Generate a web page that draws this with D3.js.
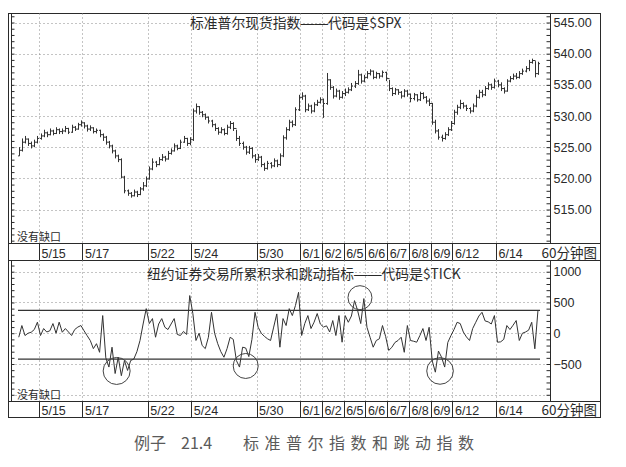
<!DOCTYPE html>
<html><head><meta charset="utf-8">
<script src="https://cdn.jsdelivr.net/npm/d3@7"></script>
<style>body{margin:0;background:#fff}svg{display:block}</style>
</head><body>
<svg id="c" width="626" height="467"></svg>
<script>
// ---------- data ----------
const days = ["5/12","5/15","5/16","5/17","5/18","5/19","5/22","5/23","5/24","5/25","5/26","5/30","5/31","6/1","6/2","6/5","6/6","6/7","6/8","6/9","6/12","6/13","6/14","6/15"];
const labelDays = ["5/15","5/17","5/22","5/24","5/30","6/1","6/2","6/5","6/6","6/7","6/8","6/9","6/12","6/14"];
const barsPerDay = 7;
const priceTicks = [545,540,535,530,525,520,515];
const tickTicks = [1000,500,0,-500];
const tickGrid = [1000,500,0,-500,-1000];

const spxClose = [
524.5,525.8,526.3,525.6,525.2,525.8,526.4,
526.8,527.3,527.0,527.6,527.2,527.8,527.5,
527.6,528.0,527.4,528.2,527.9,528.6,528.9,
528.4,527.9,528.1,527.5,527.7,527.0,526.6,
525.8,525.2,524.4,523.6,523.0,520.2,518.0,
517.6,517.2,517.8,517.4,518.3,518.8,519.9,
521.5,522.6,522.2,523.0,523.4,523.1,524.0,
524.4,525.2,524.8,525.8,526.4,525.6,526.2,
530.8,531.5,530.6,530.2,529.8,529.2,528.6,
528.0,527.4,527.8,527.2,528.2,528.8,528.0,
526.4,525.6,525.0,524.2,524.8,523.6,523.0,
523.4,522.2,521.6,522.4,522.0,522.8,522.2,
523.6,526.5,527.8,529.0,528.6,531.0,533.0,
533.2,531.0,531.6,530.8,531.8,532.2,532.6,
532.0,535.8,534.6,533.2,534.0,533.0,533.6,
533.8,534.2,534.8,535.2,536.6,535.6,536.2,
536.8,537.2,536.2,536.8,536.4,537.0,536.0,
534.4,533.6,534.2,533.8,533.2,534.0,533.5,
532.8,533.4,532.6,533.6,533.0,532.4,532.0,
529.0,527.6,526.6,526.4,527.0,527.8,528.8,
530.6,531.4,532.0,531.6,531.2,530.8,531.6,
533.0,533.8,533.4,534.4,535.0,534.6,535.6,
535.0,534.4,534.0,535.6,536.0,536.4,536.2,
536.8,537.2,537.6,538.6,538.9,536.8,538.4];
const spxHigh = [
525.0,526.4,526.8,526.4,525.9,526.2,526.8,
527.2,527.8,527.5,528.0,527.8,528.2,528.0,
528.0,528.4,528.1,528.6,528.4,528.9,529.3,
529.0,528.6,528.5,528.2,528.0,527.8,527.2,
526.8,526.0,525.4,524.6,523.8,523.2,520.4,
518.2,517.8,518.2,518.0,518.6,519.4,520.3,
521.9,523.2,522.8,523.4,523.9,523.6,524.4,
524.8,525.6,525.4,526.2,526.8,526.5,526.6,
531.2,532.0,531.6,530.8,530.4,529.9,529.4,
528.8,528.2,528.2,528.0,528.6,529.2,529.0,
527.8,526.8,525.9,525.2,525.2,525.0,523.9,
523.9,523.6,522.5,522.8,522.6,523.2,523.0,
524.0,526.9,528.2,529.4,529.3,531.4,533.4,
533.8,533.4,532.0,531.8,532.2,532.6,533.0,
532.8,536.9,535.9,534.8,534.4,534.2,534.0,
534.4,534.6,535.3,535.6,537.4,536.8,536.6,
537.2,537.5,537.3,537.1,536.9,537.3,537.1,
535.8,534.6,534.5,534.3,534.0,534.3,534.2,
533.6,533.7,533.5,533.9,533.8,533.2,532.8,
532.1,529.4,527.9,527.0,527.4,528.2,529.2,
531.0,531.8,532.6,532.2,531.8,531.4,532.0,
533.4,534.2,534.2,534.8,535.4,535.2,536.0,
535.8,535.4,534.6,535.9,536.4,536.8,536.9,
537.2,537.6,538.0,539.0,539.2,538.8,538.7];
const spxLow = [
523.6,524.3,525.6,525.2,524.8,525.0,525.6,
526.2,526.6,526.6,526.9,526.9,527.1,527.1,
527.1,527.4,527.1,527.3,527.6,527.8,528.3,
528.0,527.5,527.6,527.2,527.2,526.6,526.0,
525.4,524.8,524.0,523.2,522.6,520.0,517.6,
517.2,516.9,517.1,517.0,517.3,518.0,518.6,
519.8,521.3,521.8,522.1,522.8,522.7,523.0,
523.8,524.3,524.5,524.7,525.7,525.2,525.3,
526.0,530.4,530.2,529.8,529.4,528.8,528.2,
527.6,527.0,527.2,526.9,527.0,527.9,527.6,
526.0,525.2,524.6,523.8,523.9,523.2,522.5,
522.8,521.8,521.2,521.4,521.6,521.8,521.8,
522.0,523.4,526.2,527.6,528.2,528.4,530.8,
532.6,530.6,530.8,530.4,530.6,531.6,532.0,
529.7,531.8,534.2,532.8,533.0,532.6,532.8,
533.2,533.6,534.0,534.5,535.0,535.2,535.4,
536.0,536.5,535.9,536.0,536.0,536.2,535.6,
534.0,533.2,533.4,533.4,532.8,533.0,533.1,
532.2,532.5,532.3,532.4,532.7,532.0,531.6,
528.6,527.2,526.2,525.9,526.2,526.8,527.6,
528.6,530.2,531.1,531.2,530.8,530.4,530.6,
531.4,532.8,533.0,533.2,534.2,534.2,534.4,
534.6,534.0,533.6,533.9,535.4,535.8,535.9,
536.0,536.6,537.0,537.2,538.4,536.2,536.6];

const tickValues = [
-65,125,-37,0,16,60,180,
-37,76,20,40,157,0,180,
16,76,20,-37,60,100,125,
40,-40,-118,-250,-170,-310,287,
-400,-550,-227,-655,-390,-690,-443,
-605,-443,-420,-300,-118,150,400,
157,238,-65,150,238,97,60,
150,238,-20,-37,30,-20,612,
320,-118,0,-200,-250,-65,340,
0,-170,-300,-390,-250,-65,-100,
-443,-550,-227,-240,-380,-100,340,
97,0,-50,-90,-118,100,314,
-227,238,125,400,287,450,665,
-37,157,287,76,180,320,150,
100,120,20,206,-37,287,-146,
287,178,280,530,368,157,563,
97,-65,-227,-118,-90,125,-50,
-280,-230,-150,-118,-65,-310,125,
-118,-130,-146,-40,76,-118,97,
-450,-633,-290,-390,-550,-150,-40,
60,178,157,20,-60,-118,76,
178,280,340,200,185,150,287,
-146,-140,-100,125,60,130,206,
-118,0,20,50,178,-253,368];

const bandLevels = [370, -420];
// circles: centre in (day units, tick value), radius in px
const circleDay = [4.57, 10.5, 15.75, 19.43];
const circleVal = [-613, -532, 578, -613];
const circleR = [13.5, 12.5, 12, 13.3];

const topTitleA = "标准普尔现货指数", topTitleB = "代码是$SPX";
const botTitleA = "纽约证券交易所累积求和跳动指标", botTitleB = "代码是$TICK";
const dash = "——";
const noGap = "没有缺口";
const period = "60分钟图";

// ---------- layout ----------
const svg = d3.select("#c");
const ink = "#2a2a2a";
const L = 11.5, R = 550.5;
const top1 = 13.5, bot1 = 243.5, strip1 = 260.5;
const top2 = 260.5, bot2 = 401.5, strip2 = 417.5;

const x = d3.scaleLinear().domain([0, days.length]).range([17.2, 539.5]);
const bx = i => x((i + 0.5) / barsPerDay);
const y1 = d3.scaleLinear().domain([515, 545]).range([209.5, 22.5]);
const y2 = d3.scaleLinear().domain([-500, 1000]).range([364, 271.7]);

// outer frame
svg.append("rect").attr("x", 8.5).attr("y", top1).attr("width", 592).attr("height", strip2 - top1)
  .attr("fill", "none").attr("stroke", ink).attr("stroke-width", 1);

function panel(yTop, yBot, yStrip, ys, gridVals, minorStep, minorDom, tVals, fmt) {
  const g = svg.append("g");
  g.selectAll(null).data(gridVals).join("line")
    .attr("x1", L).attr("x2", R).attr("y1", d => Math.round(ys(d)) + 0.5).attr("y2", d => Math.round(ys(d)) + 0.5)
    .attr("stroke", "#888").attr("stroke-dasharray", "1,3");
  g.selectAll(null).data(labelDays).join("line")
    .attr("x1", d => Math.round(x(days.indexOf(d))) + 0.5).attr("x2", d => Math.round(x(days.indexOf(d))) + 0.5)
    .attr("y1", yTop).attr("y2", yBot)
    .attr("stroke", "#888").attr("stroke-dasharray", "1,3");
  g.append("line").attr("x1", L).attr("x2", L).attr("y1", yTop).attr("y2", yBot).attr("stroke", ink);
  g.append("line").attr("x1", R).attr("x2", R).attr("y1", yTop).attr("y2", yBot).attr("stroke", ink);
  g.append("line").attr("x1", 8.5).attr("x2", 600.5).attr("y1", yBot).attr("y2", yBot).attr("stroke", ink);
  g.append("line").attr("x1", 8.5).attr("x2", 600.5).attr("y1", yStrip).attr("y2", yStrip).attr("stroke", ink);
  const minor = d3.range(minorDom[0], minorDom[1] + 1e-6, minorStep).filter(v => ys(v) > yTop + 1 && ys(v) < yBot - 1);
  g.append("g").attr("transform", `translate(${L},0)`)
    .call(d3.axisRight(ys).tickValues(minor).tickSize(3).tickFormat(""))
    .call(a => { a.select(".domain").remove(); a.selectAll("line").attr("stroke", ink); });
  g.append("g").attr("transform", `translate(${R},0)`)
    .call(d3.axisLeft(ys).tickValues(minor).tickSize(4).tickFormat(""))
    .call(a => { a.select(".domain").remove(); a.selectAll("line").attr("stroke", ink); });
  g.append("g").attr("transform", `translate(${R},0)`)
    .call(d3.axisRight(ys).tickValues(tVals).tickSize(0).tickPadding(3).tickFormat(fmt))
    .call(a => {
      a.select(".domain").remove();
      a.selectAll("text").attr("font-family", "Liberation Sans, Arial, sans-serif")
        .attr("font-size", 12.5).attr("fill", ink);
    });
  g.selectAll(null).data(labelDays).join("line")
    .attr("x1", d => Math.round(x(days.indexOf(d))) + 0.5).attr("x2", d => Math.round(x(days.indexOf(d))) + 0.5)
    .attr("y1", yBot).attr("y2", yStrip).attr("stroke", ink);
  g.selectAll(null).data(labelDays).join("text")
    .attr("x", d => x(days.indexOf(d)) + 2.5).attr("y", yStrip - 3)
    .attr("font-family", "Liberation Sans, Arial, sans-serif").attr("font-size", 12.5)
    .attr("fill", ink).text(d => d);
  g.append("text").attr("x", 597).attr("y", yStrip - 3).attr("text-anchor", "end")
    .attr("font-family", "Noto Sans CJK SC").attr("font-size", 13.5).attr("fill", ink).text(period);
  g.append("text").attr("x", 17).attr("y", yBot - 2.5)
    .attr("font-family", "Noto Sans CJK SC").attr("font-size", 11).attr("fill", ink).text(noGap);
  return g;
}

panel(top1, bot1, strip1, y1, priceTicks, 1, [510, 546], priceTicks, d3.format(".2f"));
panel(top2, bot2, strip2, y2, tickGrid, 100, [-1100, 1100], tickTicks, d3.format("d"));

// titles
function title(xp, yp, a, b) {
  const t = svg.append("text").attr("x", xp).attr("y", yp).attr("font-family", "Noto Sans CJK SC")
    .attr("font-size", 13.8).attr("fill", ink);
  t.append("tspan").text(a);
  t.append("tspan").attr("font-family", "Liberation Sans, Arial").text(dash);
  t.append("tspan").text(b);
}
title(190, 27.5, topTitleA, topTitleB);
title(147, 278.5, botTitleA, botTitleB);

// OHLC bars
const ohlc = svg.append("g").attr("stroke", "#333").attr("stroke-width", 1).attr("fill", "none");
spxClose.forEach((c, i) => {
  const o = i > 0 ? spxClose[i - 1] : spxLow[i];
  const xi = Math.round(bx(i)) + 0.5;
  ohlc.append("line").attr("x1", xi).attr("x2", xi).attr("y1", y1(spxLow[i])).attr("y2", y1(spxHigh[i]));
  ohlc.append("line").attr("x1", xi - 1.5).attr("x2", xi).attr("y1", y1(o)).attr("y2", y1(o));
  ohlc.append("line").attr("x1", xi).attr("x2", xi + 1.5).attr("y1", y1(c)).attr("y2", y1(c));
});

// band lines
svg.selectAll(null).data(bandLevels).join("line")
  .attr("x1", 18).attr("x2", 540).attr("y1", d => y2(d)).attr("y2", d => y2(d))
  .attr("stroke", "#333").attr("stroke-width", 1.2);

// tick line
svg.append("path").datum(tickValues)
  .attr("d", d3.line().x((d, i) => bx(i)).y(d => y2(d)))
  .attr("fill", "none").attr("stroke", "#333").attr("stroke-width", 1);

// circles
svg.selectAll(null).data(circleDay).join("circle")
  .attr("cx", d => x(d)).attr("cy", (d, i) => y2(circleVal[i])).attr("r", (d, i) => circleR[i])
  .attr("fill", "none").attr("stroke", "#444").attr("stroke-width", 1);

// caption
const cap = svg.append("text").attr("y", 449).attr("font-family", "Noto Sans CJK SC")
  .attr("font-size", 16).attr("fill", "#5a5a5a");
cap.append("tspan").attr("x", 134).text("例子");
cap.append("tspan").attr("x", 181).text("21.4");
cap.append("tspan").attr("x", 243).attr("letter-spacing", 5.5).text("标准普尔指数和跳动指数");
</script>
</body></html>
